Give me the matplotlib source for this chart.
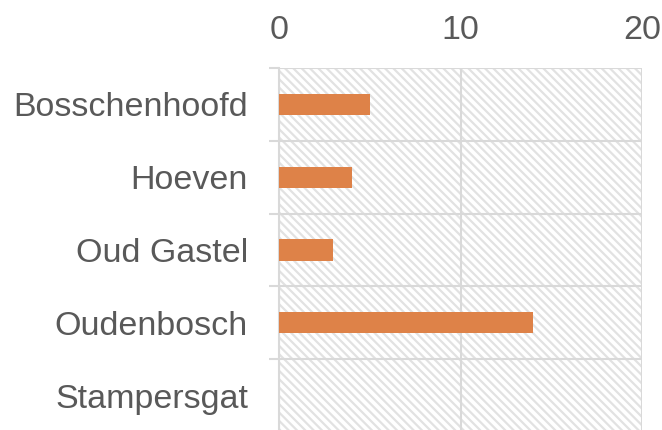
import numpy as np
import matplotlib
matplotlib.use("Agg")
from matplotlib import pyplot as plt
from matplotlib.patches import Rectangle

places = ["Bosschenhoofd", "Hoeven", "Oud Gastel", "Oudenbosch", "Stampersgat"]
counts = [5, 4, 3, 14, 0]
x_ticks = [0, 10, 20]

plt.rcParams["font.family"] = ["Liberation Sans", "DejaVu Sans"]
plt.rcParams["hatch.linewidth"] = 1.6

grid_col = "#d9d9d9"
text_col = "#595959"

fig = plt.figure(figsize=(6.62, 4.30), dpi=100)
ax = fig.add_axes([279 / 662, -2 / 430, 363 / 662, 364 / 430])

# hatched plot area
bg = Rectangle((0, 0), 1, 1, transform=ax.transAxes, facecolor="white",
               edgecolor="#e2e2e2", hatch="\\" * 4, linewidth=0, zorder=0.1)
ax.add_patch(bg)

pos = np.arange(len(places)) + 0.5
ax.barh(pos, counts, height=0.29, color="#de8248", zorder=3)

ax.set_xlim(0, 20)
ax.set_ylim(len(places), 0)

ax.xaxis.tick_top()
ax.set_xticks(x_ticks)
ax.set_xticklabels([str(v) for v in x_ticks])
ax.tick_params(axis="x", length=0, pad=16, labelsize=24.5, labelcolor=text_col)

ax.set_yticks(np.arange(len(places) + 1))
ax.set_yticklabels([])
ax.set_yticks(pos, minor=True)
ax.set_yticklabels(places, minor=True)
ax.tick_params(axis="y", which="major", length=7.2, width=1.5, color=grid_col)
ax.tick_params(axis="y", which="minor", length=0, pad=22.3, labelsize=24.5,
               labelcolor=text_col)

ax.set_axisbelow(True)
ax.grid(True, which="major", color=grid_col, linewidth=1.5)

for s in ["top", "right", "bottom"]:
    ax.spines[s].set_visible(False)
ax.spines["left"].set_color(grid_col)
ax.spines["left"].set_linewidth(1.5)

fig.savefig("out.png", dpi=100)
